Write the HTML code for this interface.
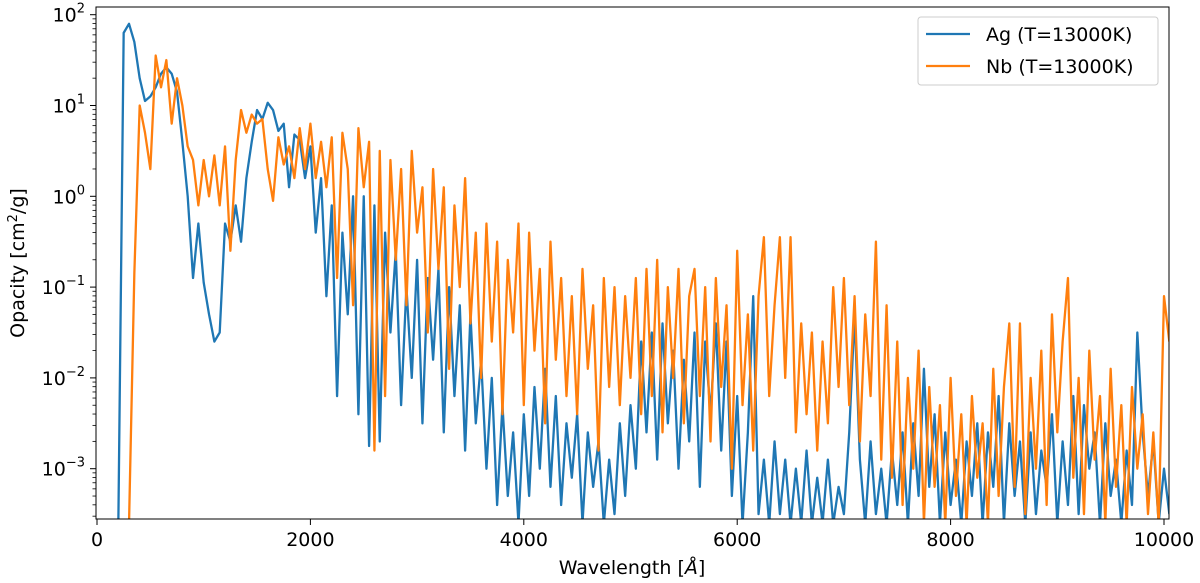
<!DOCTYPE html>
<html><head><meta charset="utf-8"><style>
html,body{margin:0;padding:0;background:#fff;width:1200px;height:583px;overflow:hidden;}
svg{display:block;font-family:"DejaVu Sans","Liberation Sans",sans-serif;}
</style></head><body>
<svg id="chart" width="1200" height="583" viewBox="0 0 1200 583">
<defs><clipPath id="plotclip"><rect x="96" y="7" width="1073" height="512"/></clipPath></defs>
<rect x="0" y="0" width="1200" height="583" fill="#fff"/>
<g id="series" clip-path="url(#plotclip)"></g>
<g id="axes"></g>
<rect x="96" y="7" width="1073" height="512" fill="none" stroke="#000" stroke-width="1"/>
<text x="632" y="574" font-size="19" text-anchor="middle">Wavelength [<tspan font-style="italic">Å</tspan>]</text>
<text transform="translate(24,263) rotate(-90)" font-size="19" text-anchor="middle">Opacity [cm<tspan dy="-7" font-size="13">2</tspan><tspan dy="7">/g]</tspan></text>
<g>
<rect x="918" y="17" width="240" height="68" rx="3" fill="#fff" fill-opacity="0.8" stroke="#ccc" stroke-width="1"/>
<line x1="926" y1="34" x2="970" y2="34" stroke="#1f77b4" stroke-width="2.2"/>
<text x="986" y="41" font-size="19">Ag (T=13000K)</text>
<line x1="926" y1="66" x2="970" y2="66" stroke="#ff7f0e" stroke-width="2.2"/>
<text x="986" y="73" font-size="19">Nb (T=13000K)</text>
</g>
</svg>
<script>
// wavelength grid: index i -> i*stepAngstrom
const stepAngstrom = 50;
const xTicks = [0, 2000, 4000, 6000, 8000, 10000];
const xTickLabels = ["0", "2000", "4000", "6000", "8000", "10000"];
const yTickExps = [2, 1, 0, -1, -2, -3];
const yTickLabels = ["2", "1", "0", "−1", "−2", "−3"];
// log10 opacity [cm^2/g], Ag
const agLog = [-5,-5,-5,-5,-5,1.8,1.9,1.7,1.3,1.05,1.1,1.2,1.35,1.42,1.35,1.15,0.6,0.0,-0.9,-0.3,
-0.95,-1.3,-1.6,-1.5,-0.3,-0.5,-0.1,-0.5,0.2,0.6,0.95,0.85,1.03,0.95,0.72,0.8,0.1,0.68,0.62,0.2,
0.55,-0.4,0.2,-1.1,-0.1,-2.2,-0.4,-1.3,0.0,-2.4,0.0,-2.75,-0.1,-2.7,-0.4,-1.5,-0.6,-2.3,-1.0,-2.0,
-0.7,-2.5,-0.9,-1.8,-0.8,-2.6,-1.0,-2.2,-1.2,-2.8,-1.3,-2.5,-1.8,-3.0,-2.0,-3.4,-2.3,-3.3,-2.6,-3.6,
-2.4,-3.3,-2.1,-3.0,-1.9,-3.2,-2.2,-3.4,-2.5,-3.1,-2.4,-3.6,-2.6,-3.2,-2.7,-3.8,-2.9,-3.5,-2.5,-3.3,
-2.3,-3.0,-1.6,-2.6,-1.5,-2.9,-1.4,-2.5,-1.7,-3.0,-1.8,-2.7,-1.5,-3.2,-1.6,-2.4,-1.4,-2.8,-1.6,-3.3,
-2.2,-3.8,-2.6,-1.1,-3.5,-2.9,-3.9,-2.7,-3.5,-2.9,-3.8,-3.0,-3.6,-2.8,-3.9,-3.1,-3.6,-2.9,-3.8,-3.2,
-3.5,-2.6,-1.3,-2.9,-3.7,-2.7,-3.5,-3.0,-3.9,-2.8,-3.4,-2.6,-3.7,-2.5,-3.3,-1.9,-3.2,-2.4,-3.6,-2.6,
-3.4,-2.9,-3.8,-2.7,-3.3,-2.5,-3.7,-2.6,-3.2,-2.2,-3.6,-2.5,-3.3,-2.7,-3.8,-2.6,-3.5,-2.8,-3.2,-2.4,
-3.6,-2.7,-3.4,-2.2,-3.5,-2.3,-3.0,-2.6,-3.8,-2.5,-3.3,-2.9,-3.6,-2.8,-3.4,-1.5,-2.6,-3.3,-2.7,-3.6,
-3.0,-3.5];
// log10 opacity [cm^2/g], Nb
const nbLog = [-5,-5,-5,-5,-5,-5,-5,-0.85,1.0,0.7,0.3,1.55,1.2,1.5,0.8,1.3,1.0,0.55,0.4,-0.1,
0.4,0.0,0.45,-0.1,0.55,-0.6,0.4,0.95,0.7,0.9,0.8,0.85,0.3,-0.05,0.65,0.35,0.55,0.2,0.75,0.3,
0.8,0.2,0.6,0.1,0.65,-0.9,0.7,0.3,-1.2,0.75,0.1,0.6,-2.8,0.5,-2.2,0.4,-0.7,0.3,-1.2,0.5,
-0.4,0.1,-1.5,0.3,-0.8,0.1,-1.9,-0.1,-1.0,0.2,-1.4,-0.4,-2.0,-0.3,-1.6,-0.5,-2.4,-0.7,-1.5,-0.3,
-2.3,-0.4,-1.7,-0.8,-2.5,-0.5,-1.8,-0.9,-2.2,-1.1,-2.4,-0.8,-1.9,-1.2,-2.8,-0.9,-2.1,-1.0,-2.3,-1.1,
-2.0,-0.9,-2.4,-0.8,-2.2,-0.7,-2.6,-1.0,-2.0,-0.8,-2.5,-1.1,-0.8,-2.2,-1.0,-2.7,-0.9,-2.1,-1.2,-3.0,
-0.6,-2.3,-1.3,-2.8,-1.1,-0.45,-2.2,-1.2,-0.45,-2.0,-0.45,-2.6,-1.4,-2.4,-1.5,-2.8,-1.6,-2.5,-1.0,-2.1,
-0.9,-2.3,-1.1,-2.7,-1.3,-2.2,-0.5,-2.9,-1.2,-3.1,-1.6,-3.4,-2.0,-3.0,-1.7,-3.6,-2.1,-3.2,-2.3,-3.7,
-2.0,-3.3,-2.4,-3.8,-2.2,-3.1,-2.5,-3.6,-1.9,-3.3,-2.1,-1.4,-3.2,-1.4,-3.5,-2.0,-3.0,-1.7,-3.4,-1.3,
-2.6,-1.6,-0.9,-3.1,-2.0,-3.5,-1.7,-2.9,-2.2,-3.6,-1.9,-3.2,-2.3,-3.7,-2.1,-3.0,-2.4,-3.5,-2.6,-3.8,
-1.1,-1.6];

const NS = "http://www.w3.org/2000/svg";
const X0 = 97, XS = 0.1067;
const Y0 = 196.3, YS = 90.8;
function xPos(l){ return X0 + XS*l; }
function yPos(lg){ return Math.min(Y0 - YS*lg, 524); }

const seriesG = document.getElementById('series');
function drawSeries(vals, color, name){
  let d = "";
  vals.forEach((v,i)=>{ d += (i?"L":"M") + xPos(i*stepAngstrom).toFixed(2) + "," + yPos(v).toFixed(2); });
  const p = document.createElementNS(NS,'path');
  p.setAttribute('d', d);
  p.setAttribute('fill','none');
  p.setAttribute('stroke', color);
  p.setAttribute('stroke-width','2.3');
  p.setAttribute('stroke-linejoin','round');
  
  
  seriesG.appendChild(p);
}
drawSeries(agLog, '#1f77b4', 'ag-opacity-line');
drawSeries(nbLog, '#ff7f0e', 'nb-opacity-line');

const axes = document.getElementById('axes');
function mk(tag, attrs){ const e=document.createElementNS(NS,tag); for(const k in attrs) e.setAttribute(k, attrs[k]); axes.appendChild(e); return e; }
xTicks.forEach((t,i)=>{
  const x = xPos(t);
  const tk = mk('line',{x1:x,y1:519,x2:x,y2:525,stroke:'#000','stroke-width':1});
  
  
  const lb = mk('text',{x:x,y:546,'font-size':19,'text-anchor':'middle'});
  lb.textContent = xTickLabels[i];
  
  
});
yTickExps.forEach((e,i)=>{
  const y = yPos(e);
  const tk = mk('line',{x1:90,y1:y,x2:96,y2:y,stroke:'#000','stroke-width':1});
  
  
  const lb = mk('text',{x:85,y:y+7,'font-size':19,'text-anchor':'end'});
  lb.innerHTML = '10<tspan dy="-9" font-size="13">' + yTickLabels[i] + '</tspan>';
  
  
});
for(let e=-4;e<=2;e++){
  for(let m=2;m<=9;m++){
    const y = Y0 - YS*(e + Math.log10(m));
    if(y < 7 || y > 519) continue;
    const tk = mk('line',{x1:92.5,y1:y,x2:96,y2:y,stroke:'#000','stroke-width':0.8});
    
    
  }
}
</script>
</body></html>
